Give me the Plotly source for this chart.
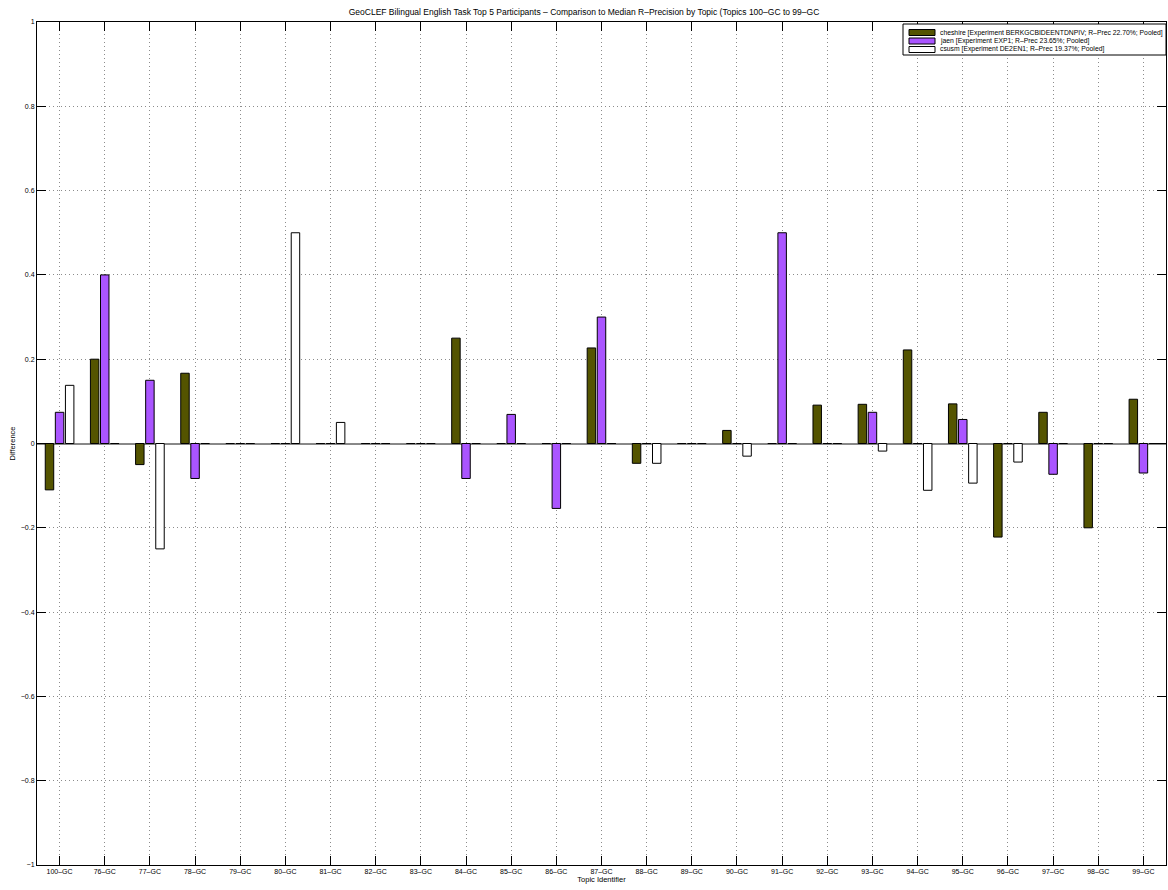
import plotly.graph_objects as go

topics = ["100–GC", "76–GC", "77–GC", "78–GC", "79–GC", "80–GC", "81–GC", "82–GC",
          "83–GC", "84–GC", "85–GC", "86–GC", "87–GC", "88–GC", "89–GC", "90–GC",
          "91–GC", "92–GC", "93–GC", "94–GC", "95–GC", "96–GC", "97–GC", "98–GC", "99–GC"]

cheshire = [-0.110, 0.200, -0.050, 0.1667, 0.0, 0.0, 0.0, 0.0, 0.0, 0.250, 0.0, 0.0,
            0.2267, -0.047, 0.0, 0.031, 0.0, 0.091, 0.093, 0.222, 0.094, -0.222, 0.074, -0.200, 0.105]
jaen = [0.074, 0.400, 0.150, -0.083, 0.0, 0.0, 0.0, 0.0, 0.0, -0.083, 0.069, -0.154,
        0.300, 0.0, 0.0, 0.0, 0.500, 0.0, 0.074, 0.0, 0.057, 0.0, -0.073, 0.0, -0.070]
csusm = [0.138, 0.0, -0.250, 0.0, 0.0, 0.500, 0.050, 0.0, 0.0, 0.0, 0.0, 0.0,
         0.0, -0.047, 0.0, -0.030, 0.0, 0.0, -0.018, -0.111, -0.094, -0.044, 0.0, 0.0, 0.0]

series_names = ["cheshire [Experiment BERKGCBIDEENTDNPIV; R–Prec 22.70%; Pooled]",
                "jaen [Experiment EXP1; R–Prec 23.65%; Pooled]",
                "csusm [Experiment DE2EN1; R–Prec 19.37%; Pooled]"]
series_colors = ["#545400", "#aa55ff", "#ffffff"]

y_ticks = [-1, -0.8, -0.6, -0.4, -0.2, 0, 0.2, 0.4, 0.6, 0.8, 1]
y_ticklabels = ["−1", "−0.8", "−0.6", "−0.4", "−0.2", "0", "0.2", "0.4", "0.6", "0.8", "1"]

title_text = "GeoCLEF Bilingual English Task Top 5 Participants – Comparison to Median R–Precision by Topic (Topics 100–GC to 99–GC"

FONT = "Liberation Sans, Arial, sans-serif"
W, H = 1168, 890
L, R, T, B = 37, 2, 22, 25

xpos = list(range(1, len(topics) + 1))

fig = go.Figure()
for name, vals, col in zip(series_names, [cheshire, jaen, csusm], series_colors):
    fig.add_trace(go.Bar(
        x=xpos, y=vals, name=name,
        marker=dict(color=col, line=dict(color="black", width=1)),
        showlegend=False,
    ))

fig.update_layout(
    width=W, height=H,
    margin=dict(l=L, r=R, t=T, b=B, pad=0),
    paper_bgcolor="white", plot_bgcolor="white",
    barmode="group", bargap=0.33, bargroupgap=0.16,
    font=dict(family=FONT, size=7, color="black"),
    title=dict(text=title_text, x=0.5, xanchor="center", y=1 - 12 / H, yanchor="middle",
               font=dict(family=FONT, size=8.5, color="black")),
)

GRID = dict(showgrid=True, gridcolor="#8c8c8c", griddash="1px,3px", gridwidth=1)

fig.update_xaxes(
    range=[0.5, len(topics) + 0.5],
    tickmode="array", tickvals=xpos, ticktext=topics,
    ticks="inside", ticklen=9, tickcolor="black", tickwidth=1,
    showline=True, linecolor="black", linewidth=1, mirror="allticks",
    zeroline=False,
    tickfont=dict(family=FONT, size=7, color="black"),
    title=dict(text="Topic Identifier", font=dict(family=FONT, size=7.5, color="black"), standoff=2),
    **GRID,
)
fig.update_yaxes(
    range=[-1, 1],
    tickmode="array", tickvals=y_ticks, ticktext=y_ticklabels,
    ticks="inside", ticklen=9, tickcolor="black", tickwidth=1,
    showline=True, linecolor="black", linewidth=1, mirror="allticks",
    zeroline=True, zerolinecolor="#888888", zerolinewidth=1.5,
    tickfont=dict(family=FONT, size=7, color="black"),
    title=dict(text="Difference", font=dict(family=FONT, size=7.5, color="black"), standoff=4),
    **GRID,
)

# Manual legend box (MATLAB style)
pw, ph = W - L - R, H - T - B
def px(xp):
    return (xp - L) / pw
def py(yp):
    return (H - B - yp) / ph

fig.add_shape(type="rect", xref="paper", yref="paper",
              x0=px(903), x1=px(1166), y0=py(55), y1=py(24),
              line=dict(color="black", width=1), fillcolor="white", layer="above")
row_y = [32.5, 41, 49.5]
for name, col, ry in zip(series_names, series_colors, row_y):
    fig.add_shape(type="rect", xref="paper", yref="paper",
                  x0=px(909), x1=px(935), y0=py(ry + 3), y1=py(ry - 3),
                  line=dict(color="black", width=1), fillcolor=col, layer="above")
    fig.add_annotation(xref="paper", yref="paper", x=px(938), y=py(ry),
                       xanchor="left", yanchor="middle", showarrow=False,
                       text=name, font=dict(family=FONT, size=6.8, color="black"))

fig.write_html("out.html",
               config={"displayModeBar": False},
               post_script="document.body.style.margin='0';document.body.style.overflow='hidden';")
